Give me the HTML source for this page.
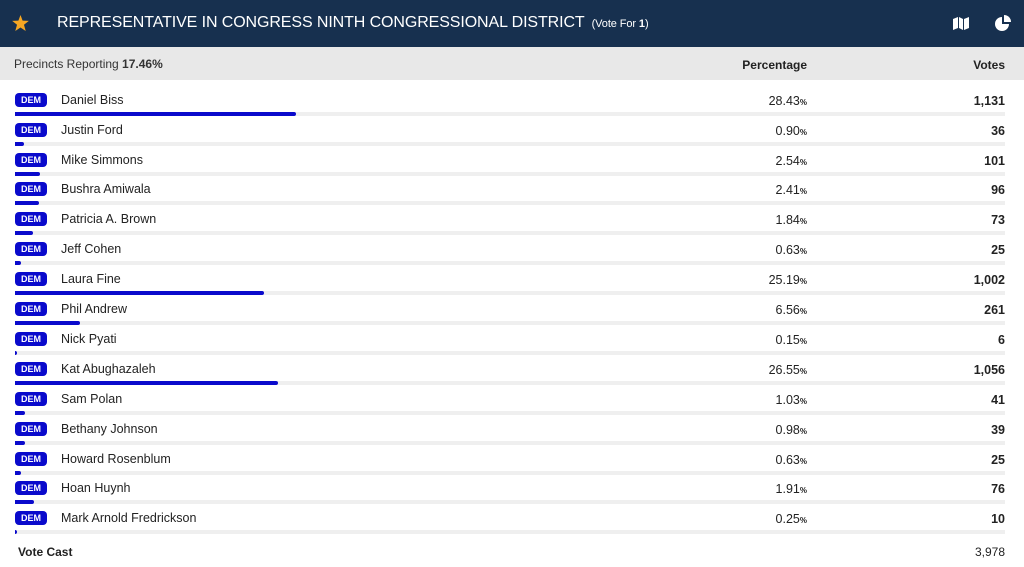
<!DOCTYPE html>
<html><head><style>
body{margin:0;width:1024px;height:567px;background:#fff;font-family:"Liberation Sans",sans-serif;position:relative;overflow:hidden}
.hdr{position:absolute;left:0;top:0;width:1024px;height:47px;background:#17304f;color:#fff}
.hdr .t{position:absolute;left:57px;top:14px;font-size:16px;letter-spacing:-0.1px}
.hdr .t small{font-size:11px;margin-left:7px}
.sub{position:absolute;left:0;top:47px;width:1024px;height:33px;background:#e8e8e8;font-size:12px;color:#333}
.row{position:absolute;left:0;width:1024px;height:30px;font-size:12.5px;color:#222}
.badge{position:absolute;left:15px;top:-7px;width:32px;height:14px;background:#0a0acc;border-radius:4px;color:#fff;font-size:9px;font-weight:bold;text-align:center;line-height:14px}
.nm{position:absolute;left:61px;top:-7px}
.pc{position:absolute;right:217px;top:-6px}
.pc span{font-size:8px;font-weight:bold}
.vt{position:absolute;right:19px;top:-6px;font-weight:bold}
.trk{position:absolute;left:15px;top:12px;width:990px;height:4px;background:#efefef}
.fill{position:absolute;left:0;top:0;height:4px;background:#0a0acc;border-radius:0 2px 2px 0}
</style></head><body>
<div class="hdr">
<svg style="position:absolute;left:12px;top:15px" width="17" height="16" viewBox="0 0 24 23"><polygon points="12,0 15,8 24,8.5 17,14 19.5,23 12,18 4.5,23 7,14 0,8.5 9,8" fill="#f5a623"/></svg>
<div class="t">REPRESENTATIVE IN CONGRESS NINTH CONGRESSIONAL DISTRICT<small>(Vote For <b>1</b>)</small></div>
<svg style="position:absolute;left:953px;top:17px" width="16" height="13" viewBox="0 0 16 13"><path d="M0 2 L5 0 L5 11 L0 13Z M6 0 L10 2 L10 13 L6 11Z M11 2 L16 0 L16 11 L11 13Z" fill="#fff"/></svg>
<svg style="position:absolute;left:995px;top:15px" width="16" height="16" viewBox="0 0 16 16"><path d="M7 2 A7 7 0 1 0 14 9 L7 9Z" fill="#fff"/><path d="M9 0 A7 7 0 0 1 16 7 L9 7Z" fill="#fff"/></svg>
</div>
<div class="sub"><span style="position:absolute;left:14px;top:10px">Precincts Reporting <b>17.46%</b></span>
<b style="position:absolute;right:217px;top:11px;color:#222">Percentage</b>
<b style="position:absolute;right:19px;top:11px;color:#222">Votes</b></div>

<div class="row" style="top:100px"><div class="badge">DEM</div><div class="nm">Daniel Biss</div><div class="pc">28.43<span>%</span></div><div class="vt">1,131</div><div class="trk"><div class="fill" style="width:281px"></div></div></div>
<div class="row" style="top:130px"><div class="badge">DEM</div><div class="nm">Justin Ford</div><div class="pc">0.90<span>%</span></div><div class="vt">36</div><div class="trk"><div class="fill" style="width:9px"></div></div></div>
<div class="row" style="top:160px"><div class="badge">DEM</div><div class="nm">Mike Simmons</div><div class="pc">2.54<span>%</span></div><div class="vt">101</div><div class="trk"><div class="fill" style="width:25px"></div></div></div>
<div class="row" style="top:189px"><div class="badge">DEM</div><div class="nm">Bushra Amiwala</div><div class="pc">2.41<span>%</span></div><div class="vt">96</div><div class="trk"><div class="fill" style="width:24px"></div></div></div>
<div class="row" style="top:219px"><div class="badge">DEM</div><div class="nm">Patricia A. Brown</div><div class="pc">1.84<span>%</span></div><div class="vt">73</div><div class="trk"><div class="fill" style="width:18px"></div></div></div>
<div class="row" style="top:249px"><div class="badge">DEM</div><div class="nm">Jeff Cohen</div><div class="pc">0.63<span>%</span></div><div class="vt">25</div><div class="trk"><div class="fill" style="width:6px"></div></div></div>
<div class="row" style="top:279px"><div class="badge">DEM</div><div class="nm">Laura Fine</div><div class="pc">25.19<span>%</span></div><div class="vt">1,002</div><div class="trk"><div class="fill" style="width:249px"></div></div></div>
<div class="row" style="top:309px"><div class="badge">DEM</div><div class="nm">Phil Andrew</div><div class="pc">6.56<span>%</span></div><div class="vt">261</div><div class="trk"><div class="fill" style="width:65px"></div></div></div>
<div class="row" style="top:339px"><div class="badge">DEM</div><div class="nm">Nick Pyati</div><div class="pc">0.15<span>%</span></div><div class="vt">6</div><div class="trk"><div class="fill" style="width:2px"></div></div></div>
<div class="row" style="top:369px"><div class="badge">DEM</div><div class="nm">Kat Abughazaleh</div><div class="pc">26.55<span>%</span></div><div class="vt">1,056</div><div class="trk"><div class="fill" style="width:263px"></div></div></div>
<div class="row" style="top:399px"><div class="badge">DEM</div><div class="nm">Sam Polan</div><div class="pc">1.03<span>%</span></div><div class="vt">41</div><div class="trk"><div class="fill" style="width:10px"></div></div></div>
<div class="row" style="top:429px"><div class="badge">DEM</div><div class="nm">Bethany Johnson</div><div class="pc">0.98<span>%</span></div><div class="vt">39</div><div class="trk"><div class="fill" style="width:10px"></div></div></div>
<div class="row" style="top:459px"><div class="badge">DEM</div><div class="nm">Howard Rosenblum</div><div class="pc">0.63<span>%</span></div><div class="vt">25</div><div class="trk"><div class="fill" style="width:6px"></div></div></div>
<div class="row" style="top:488px"><div class="badge">DEM</div><div class="nm">Hoan Huynh</div><div class="pc">1.91<span>%</span></div><div class="vt">76</div><div class="trk"><div class="fill" style="width:19px"></div></div></div>
<div class="row" style="top:518px"><div class="badge">DEM</div><div class="nm">Mark Arnold Fredrickson</div><div class="pc">0.25<span>%</span></div><div class="vt">10</div><div class="trk"><div class="fill" style="width:2px"></div></div></div>

<b style="position:absolute;left:18px;top:545px;font-size:12px;color:#222">Vote Cast</b>
<span style="position:absolute;right:19px;top:545px;font-size:12px;color:#222">3,978</span>
</body></html>
